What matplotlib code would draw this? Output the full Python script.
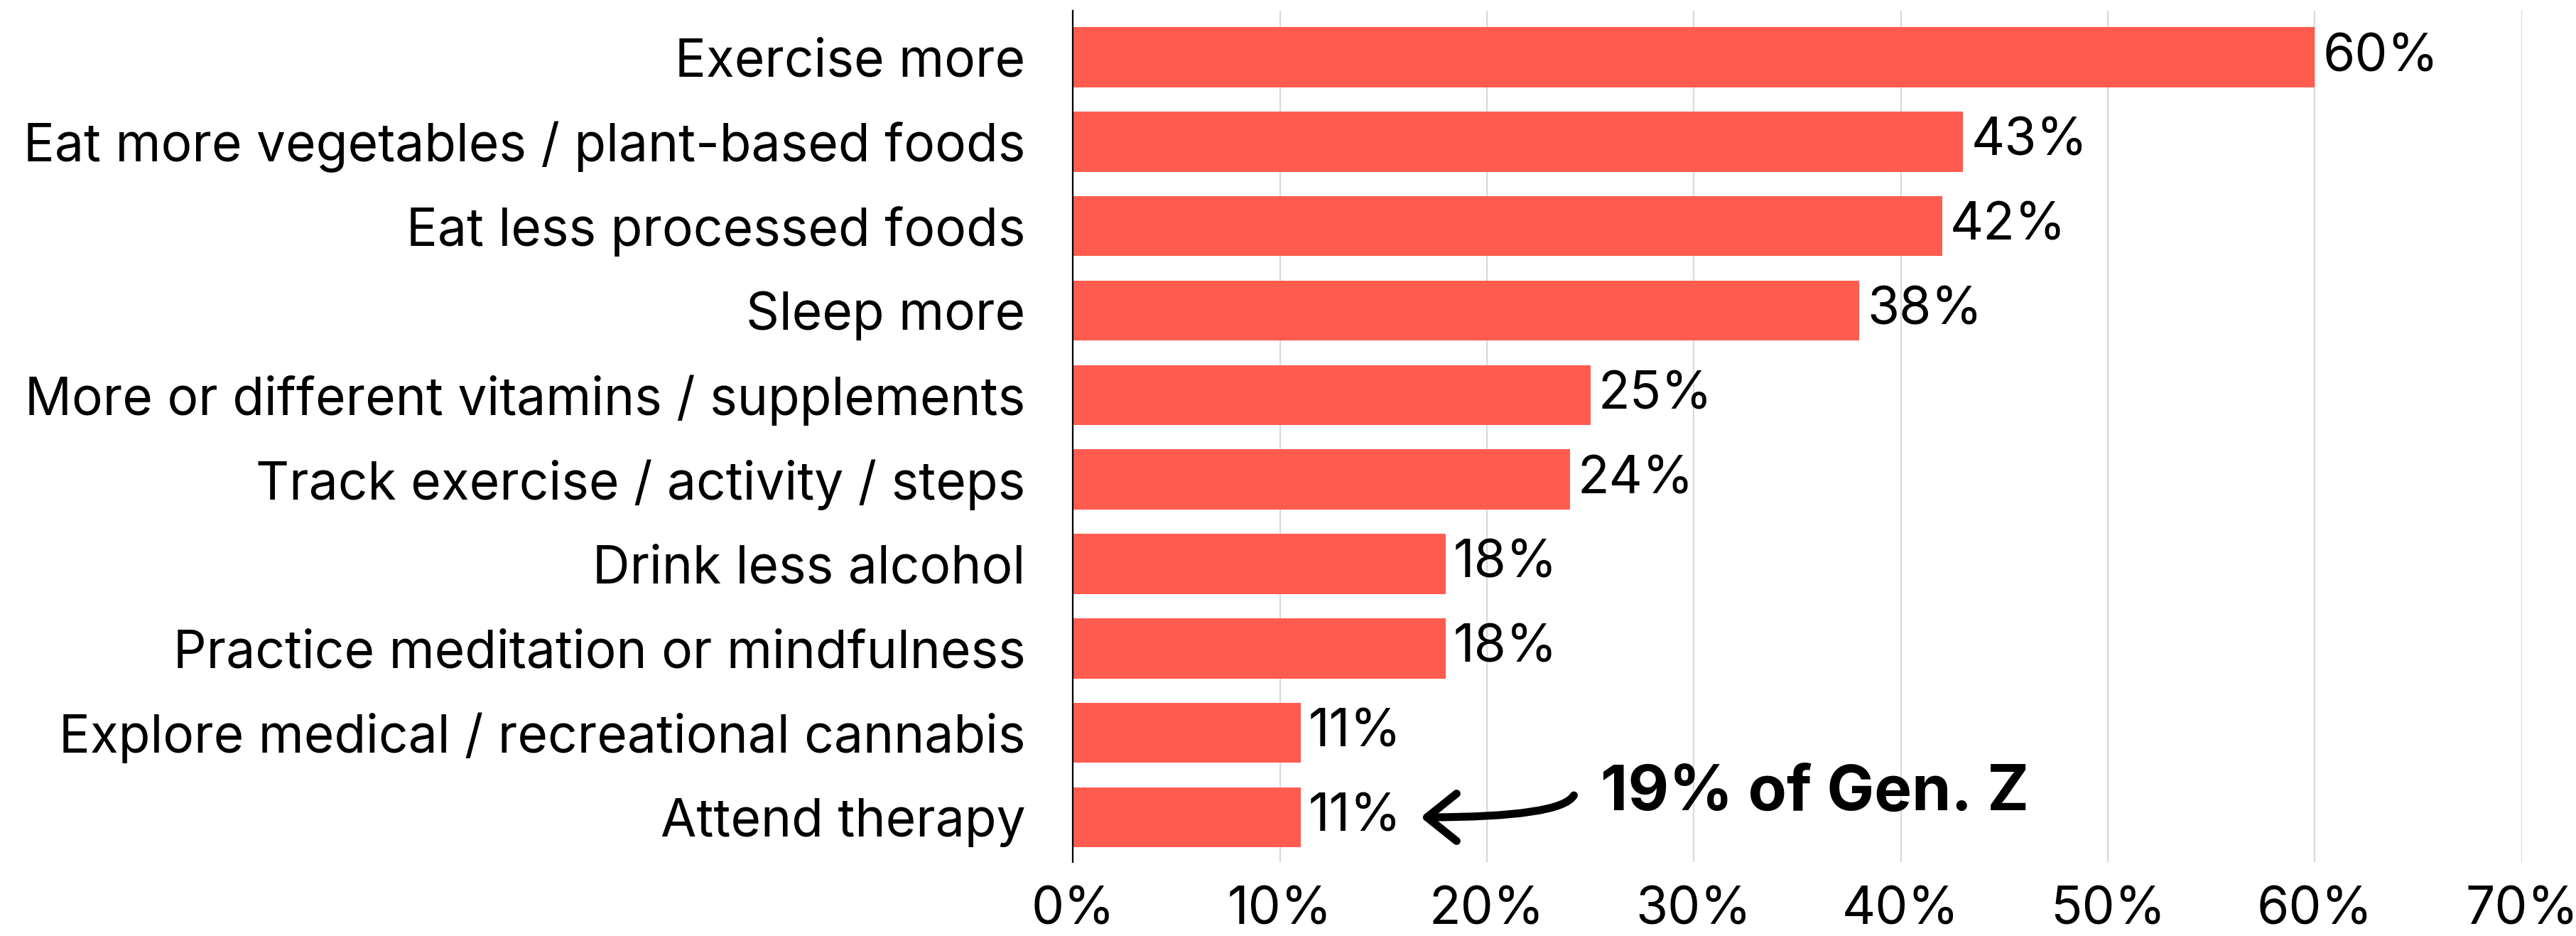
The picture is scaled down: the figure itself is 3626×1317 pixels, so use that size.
import matplotlib.pyplot as plt
from matplotlib.patches import FancyArrowPatch
from matplotlib.ticker import FuncFormatter

plt.rcParams['font.family'] = ['Inter', 'DejaVu Sans']

# Health changes people plan to make
categories = ['Exercise more',
              'Eat more vegetables / plant-based foods',
              'Eat less processed foods',
              'Sleep more',
              'More or different vitamins / supplements',
              'Track exercise / activity / steps',
              'Drink less alcohol',
              'Practice meditation or mindfulness',
              'Explore medical / recreational cannabis',
              'Attend therapy']
values = [60, 43, 42, 38, 25, 24, 18, 18, 11, 11]
x_ticks = [0, 10, 20, 30, 40, 50, 60, 70]
callout = '19% of Gen. Z'

bar_color = '#FF5C4F'
fs = 26.3

fig = plt.figure(figsize=(18.13, 6.585), dpi=200)
ax = fig.add_axes([0.4165, 0.079, 0.5625, 0.9095])

y = range(len(categories))
ax.barh(y, values, height=0.71, color=bar_color, zorder=2)

for yi, v in zip(y, values):
    ax.annotate(f'{v}%', (v, yi), xytext=(4, 0), textcoords='offset points',
                ha='left', va='center', fontsize=fs, color='black')

ax.set_ylim(len(categories) - 0.47, -0.55)
ax.set_xlim(0, 70)
ax.set_yticks(list(y))
ax.set_yticklabels(categories, fontsize=fs)
ax.set_xticks(x_ticks)
ax.xaxis.set_major_formatter(FuncFormatter(lambda v, p: f'{v:.0f}%'))
ax.tick_params(axis='x', labelsize=fs, length=0, pad=12)
ax.tick_params(axis='y', length=0, pad=24)

ax.grid(axis='x', color='#d9d9d9', linewidth=0.8, zorder=0)
ax.set_axisbelow(True)
for s in ['top', 'right', 'bottom']:
    ax.spines[s].set_visible(False)
ax.spines['left'].set_linewidth(0.8)
ax.spines['left'].set_zorder(3)

# Gen Z call-out pointing at the therapy bar
ax.text(25.5, 8.72, callout, fontsize=32, fontweight='bold', ha='left', va='center')
arrow = FancyArrowPatch((24.2, 8.74), (16.8, 9.0),
                        connectionstyle='angle3,angleA=60,angleB=0',
                        arrowstyle='->,head_length=0.75,head_width=0.6',
                        mutation_scale=20, shrinkA=0, shrinkB=0,
                        color='black', linewidth=4, capstyle='round',
                        joinstyle='round')
ax.add_patch(arrow)

fig.savefig('out.png', dpi=200)
